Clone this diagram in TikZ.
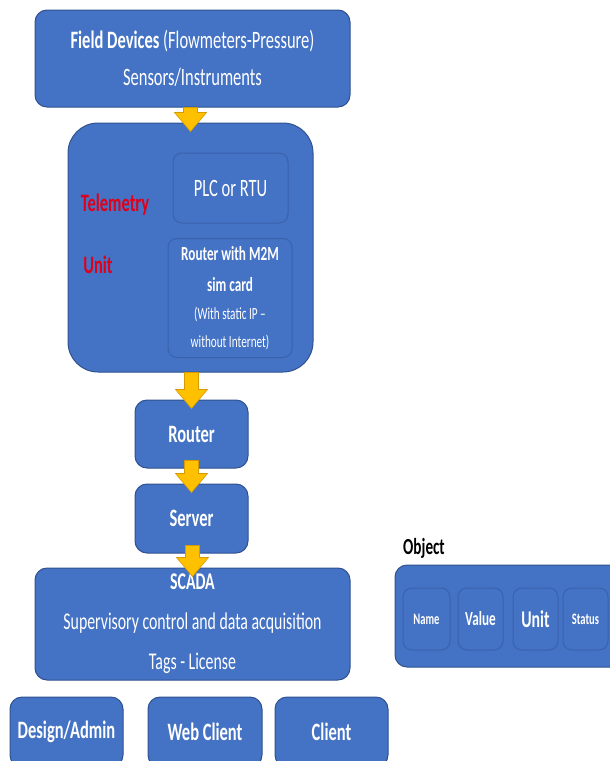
\documentclass[tikz,border=0pt]{standalone}
\usepackage{fontspec}
\setmainfont{Carlito}[FakeStretch=0.66]
\usepackage{tikz}
\usetikzlibrary{calc,positioning}
\definecolor{boxblue}{HTML}{4472C4}
\definecolor{boxline}{HTML}{2F528F}
\definecolor{subline}{HTML}{3A62AC}
\definecolor{arrfill}{HTML}{FFC000}
\definecolor{arredge}{HTML}{D49B00}
\definecolor{telered}{HTML}{E0001A}
\tikzstyle{blk}=[draw=boxline,fill=boxblue,line width=1pt,rounded corners=12pt,text=white,align=center,inner sep=2pt]
\tikzstyle{sub}=[blk,draw=subline,rounded corners=9pt]
\tikzstyle{flowarr}=[fill=arrfill,draw=arredge,line width=0.6pt]
\tikzstyle{redlbl}=[text=telered,font=\bfseries\fontsize{25}{28}\selectfont]
\newcommand{\fs}[2]{\fontsize{#1}{#2}\selectfont}
\newcommand{\flow}[3][8]{\path[flowarr] ($(#3.north |- #2.south)+(-7,-#1)$) -- ($(#3.north)+(-7,-10)$) -- ($(#3.north)+(-16,-10)$) -- ($(#3.north)+(0,9)$) -- ($(#3.north)+(16,-10)$) -- ($(#3.north)+(7,-10)$) -- ($(#3.north |- #2.south)+(7,-#1)$) -- cycle;}

\begin{document}
\begin{tikzpicture}[x=1pt,y=-1pt]
	\useasboundingbox (0,0) rectangle (610,761);
	\node[blk,minimum width=315,minimum height=97,font=\fs{25}{37}] (field) at (192.5,58.5)
		{\textbf{Field Devices} (Flowmeters-Pressure)\\Sensors/Instruments};
	\node[blk,rounded corners=30pt,minimum width=245,minimum height=249] (telem) at (190.5,247.5) {};
	\node[sub,minimum width=115,minimum height=70,font=\fs{25}{30}] (plc) at (230.5,188) {PLC or RTU};
	\node[sub,minimum width=124,minimum height=115,font=\fs{17}{28}] (m2m) at (230,298)
		{\begin{tabular}{@{}c@{}}\rule{0pt}{9pt}\bfseries\fs{20}{24}Router with M2M\\[3pt]\bfseries\fs{20}{24}sim card\\\fs{17}{20}(With static IP –\\\fs{17}{20}without Internet)\end{tabular}};
	\node[redlbl] (tlbl) at (115,205) {Telemetry};
	\node[redlbl] (ulbl) at (98,265) {Unit};
	\node[blk,minimum width=113,minimum height=68,font=\bfseries\fs{25}{30}] (router) at (191.5,434) {Router};
	\node[blk,minimum width=113,minimum height=69,font=\bfseries\fs{25}{30}] (server) at (191.5,518.5) {Server};
	\node[blk,minimum width=315,minimum height=112,font=\fs{24}{40}] (scada) at (192.5,624)
		{\textbf{SCADA}\\Supervisory control and data acquisition\\Tags - License};
	\node[blk,minimum width=113,minimum height=70,font=\bfseries\fs{25}{30}] (design) at (66.5,732) {Design/Admin};
	\node[blk,minimum width=114,minimum height=70,font=\bfseries\fs{25}{30}] (web) at (205,732) {Web Client};
	\node[blk,minimum width=113,minimum height=70,font=\bfseries\fs{25}{30}] (client) at (331.5,732) {Client};
	\node[font=\bfseries\fs{23}{26}] (objlbl) at (424,548) {Object};
	\node[blk,minimum width=230,minimum height=102] (obj) at (510,616) {};
	\node[sub,minimum width=47,minimum height=62,font=\bfseries\fs{16}{20}] (name) at (426.5,619) {Name};
	\node[sub,minimum width=45,minimum height=62,font=\bfseries\fs{20}{24},right=7 of name] (value) {Value};
	\node[sub,minimum width=45,minimum height=62,font=\bfseries\fs{24}{26},right=9 of value] (unit) {Unit};
	\node[sub,minimum width=45,minimum height=62,font=\bfseries\fs{16}{20},right=4 of unit] (status) {Status};
	\flow[0]{field}{telem}
	\flow[0]{telem}{router}
	\flow{router}{server}
	\flow{server}{scada}
\end{tikzpicture}
\end{document}
